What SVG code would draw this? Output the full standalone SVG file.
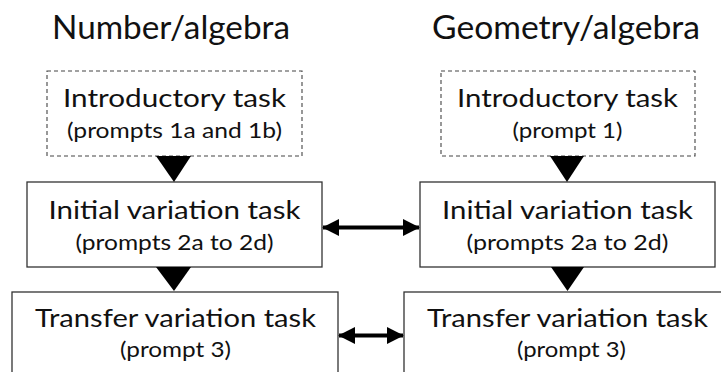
<svg xmlns="http://www.w3.org/2000/svg" width="721" height="372" viewBox="0 0 721 372">
<style>
text{font-family:Lato,"Open Sans","Liberation Sans",sans-serif;fill:#111;text-anchor:middle}
.t{font-size:32px}
.m{font-size:25px}
.s{font-size:21px}
.box{fill:#fff;stroke:#333;stroke-width:1.3}
.dash{fill:#fff;stroke:#444;stroke-width:1.1;stroke-dasharray:4 3}
.tri{fill:#000}
.arr{stroke:#000;stroke-width:4;fill:none}
</style>
<defs>
<marker id="ah" markerWidth="4.2" markerHeight="4.2" refX="4" refY="2.1" orient="auto-start-reverse" markerUnits="strokeWidth" viewBox="0 0 4.2 4.2">
<path d="M0,0 L4.2,2.1 L0,4.2 Z" fill="#000"/>
</marker>
</defs>
<g id="title-left"><text class="t" x="171" y="39" textLength="238" lengthAdjust="spacingAndGlyphs">Number/algebra</text></g>
<g id="title-right"><text class="t" x="566" y="39" textLength="268" lengthAdjust="spacingAndGlyphs">Geometry/algebra</text></g>
<g id="intro-left">
<rect class="dash" x="47" y="71" width="255" height="85"/>
<text class="m" x="174.5" y="107" textLength="223" lengthAdjust="spacingAndGlyphs">Introductory task</text>
<text class="s" x="174.5" y="138" textLength="215" lengthAdjust="spacingAndGlyphs">(prompts 1a and 1b)</text>
</g>
<g id="intro-right">
<rect class="dash" x="441" y="71" width="254" height="85"/>
<text class="m" x="567.5" y="107" textLength="221" lengthAdjust="spacingAndGlyphs">Introductory task</text>
<text class="s" x="567.5" y="138" textLength="110" lengthAdjust="spacingAndGlyphs">(prompt 1)</text>
</g>
<g id="initial-left">
<rect class="box" x="27" y="182" width="295" height="85"/>
<text class="m" x="174.5" y="219" textLength="252" lengthAdjust="spacingAndGlyphs">Initial variation task</text>
<text class="s" x="174.5" y="250" textLength="198" lengthAdjust="spacingAndGlyphs">(prompts 2a to 2d)</text>
</g>
<g id="initial-right">
<rect class="box" x="420" y="182" width="295" height="85"/>
<text class="m" x="567.5" y="219" textLength="251" lengthAdjust="spacingAndGlyphs">Initial variation task</text>
<text class="s" x="567.5" y="250" textLength="202" lengthAdjust="spacingAndGlyphs">(prompts 2a to 2d)</text>
</g>
<g id="transfer-left">
<rect class="box" x="12" y="292" width="326" height="90"/>
<text class="m" x="175.5" y="327" textLength="281" lengthAdjust="spacingAndGlyphs">Transfer variation task</text>
<text class="s" x="175.5" y="357" textLength="111" lengthAdjust="spacingAndGlyphs">(prompt 3)</text>
</g>
<g id="transfer-right">
<rect class="box" x="404" y="292" width="330" height="90"/>
<text class="m" x="567.5" y="327" textLength="281" lengthAdjust="spacingAndGlyphs">Transfer variation task</text>
<text class="s" x="571.5" y="357" textLength="109" lengthAdjust="spacingAndGlyphs">(prompt 3)</text>
</g>
<g id="connectors">
<path class="tri" d="M156,156 L191,156 L174,182 Z"/>
<path class="tri" d="M550,156 L584,156 L567,182 Z"/>
<path class="tri" d="M156,267 L191,267 L174,291 Z"/>
<path class="tri" d="M551,267 L584,267 L567.5,291 Z"/>
<line class="arr" x1="323" y1="227.5" x2="419" y2="227.5" marker-start="url(#ah)" marker-end="url(#ah)"/>
<line class="arr" x1="339" y1="335.5" x2="403" y2="335.5" marker-start="url(#ah)" marker-end="url(#ah)"/>
</g>
</svg>
